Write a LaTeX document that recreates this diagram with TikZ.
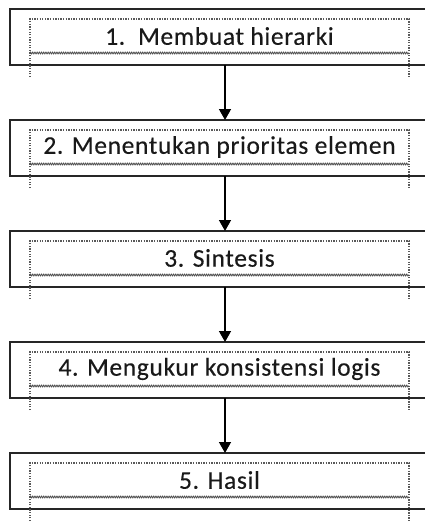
\documentclass[tikz,border=0pt]{standalone}
\usepackage{fontspec}
\setmainfont{Carlito}
\newfontfamily\boxfont[LetterSpace=2.5,FakeBold=0.3]{Carlito}
\usetikzlibrary{arrows.meta,decorations.pathmorphing}
\tikzset{
  outerbox/.style={draw=black!85, line width=1.4pt, minimum width=430pt, minimum height=56pt, inner sep=0pt, outer sep=0pt},
  textbox/.style={minimum width=379pt, minimum height=34pt, inner sep=0pt, outer sep=0pt, text=black!90, font=\boxfont\fontsize{25.5}{30}\selectfont},
  dotline/.style={draw=black!65, line width=1.3pt, dash pattern=on 1.3pt off 1.3pt},
  wavy/.style={draw=black!70, line width=0.8pt, decorate, decoration={zigzag, segment length=2.2pt, amplitude=0.9pt}},
  arr/.style={draw=black, line width=1.5pt, -{Triangle[width=12pt,length=11pt]}}
}
\begin{document}
\begin{tikzpicture}[x=1pt,y=-1pt]
\clip (0,0) rectangle (425,522);
\foreach \i/\top/\txt in {1/9/{1.\ \ Membuat hierarki},2/120/{2. Menentukan prioritas elemen},3/231/{3. Sintesis},4/342/{4. Mengukur konsistensi logis},5/453/{5. Hasil}} {
  \node[outerbox] (b\i) at (225,\top+28) {};
  \node[textbox] (t\i) at (219.5,\top+27) {\txt};
  \draw[dotline] ([yshift=-24pt]t\i.south west) -- (t\i.north west) -- (t\i.north east) -- ([yshift=-24pt]t\i.south east);
  \draw[wavy] (t\i.south west) -- (t\i.south east);
}
\draw[arr] (b1.south) -- (b2.north);
\draw[arr] (b2.south) -- (b3.north);
\draw[arr] (b3.south) -- (b4.north);
\draw[arr] (b4.south) -- (b5.north);
\end{tikzpicture}
\end{document}
